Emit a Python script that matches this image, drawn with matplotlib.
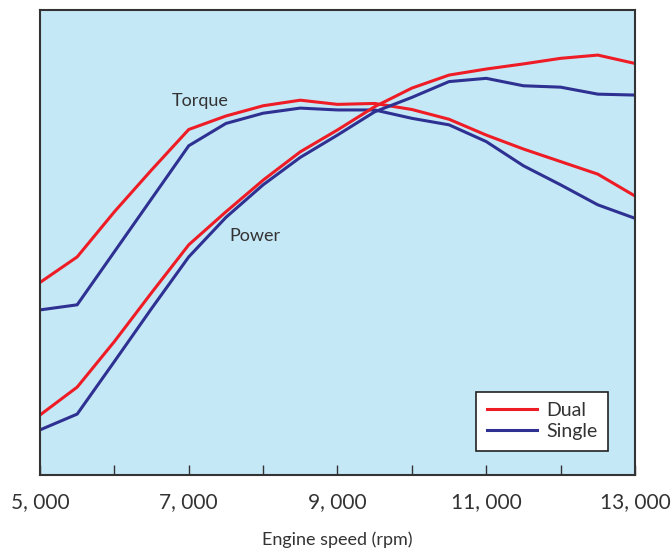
import numpy as np
import matplotlib
matplotlib.use("Agg")
import matplotlib.pyplot as plt
from matplotlib.ticker import MultipleLocator, FuncFormatter

plt.rcParams['font.family'] = ['Lato', 'DejaVu Sans']

# engine speed, rpm
rpm = np.arange(5000, 13001, 500)

# curve heights (arbitrary units, axis 0..100)
torque_dual = [41.4, 46.9, 56.6, 65.6, 74.3, 77.2, 79.4, 80.6, 79.7, 79.9,
               78.6, 76.5, 73.1, 70.1, 67.4, 64.7, 60.0]
torque_single = [35.5, 36.6, 48.0, 59.4, 70.8, 75.6, 77.8, 78.9, 78.5, 78.5,
                 76.7, 75.3, 71.7, 66.5, 62.4, 58.1, 55.2]
power_dual = [12.9, 18.9, 28.7, 39.2, 49.5, 56.6, 63.4, 69.5, 74.2, 79.2,
              83.2, 86.0, 87.3, 88.4, 89.6, 90.3, 88.5]
power_single = [9.7, 13.1, 24.4, 35.8, 46.9, 55.4, 62.4, 68.3, 73.1, 78.1,
                81.2, 84.6, 85.3, 83.7, 83.4, 81.9, 81.7]

red = '#ee1c25'
blue = '#2e3192'
txt = '#333333'

fig = plt.figure(figsize=(6.71, 5.48), dpi=100)
ax = fig.add_axes([0.0596, 0.1332, 0.8867, 0.8486])
ax.set_facecolor('#c5e8f7')

ax.plot(rpm, torque_dual, color=red, lw=2.2, label='Dual')
ax.plot(rpm, torque_single, color=blue, lw=2.2, label='Single')
ax.plot(rpm, power_dual, color=red, lw=2.2)
ax.plot(rpm, power_single, color=blue, lw=2.2)

ax.text(6775, 80.4, 'Torque', fontsize=13, color=txt, va='center', ha='left')
ax.text(7540, 51.4, 'Power', fontsize=13, color=txt, va='center', ha='left')

ax.set_xlim(5000, 13000)
ax.set_ylim(0, 100)
ax.xaxis.set_major_locator(MultipleLocator(1000))
ax.xaxis.set_major_formatter(FuncFormatter(
    lambda v, p: f"{int(v) // 1000}, {int(v) % 1000:03d}" if int(v) % 2000 == 1000 else ""))
ax.tick_params(axis='x', direction='in', length=7, width=1, colors=txt,
               labelsize=15, pad=12, labelcolor=txt)
ax.set_yticks([])
for s in ax.spines.values():
    s.set_color(txt)
    s.set_linewidth(1.5)

ax.set_xlabel('Engine speed (rpm)', fontsize=13, color=txt, labelpad=14)

leg = ax.legend(loc='lower right', bbox_to_anchor=(0.955, 0.052), borderaxespad=0,
                fancybox=False, edgecolor='#222222', fontsize=14, handlelength=2.6,
                handletextpad=0.45, labelspacing=0.2, borderpad=0.55, framealpha=1)
leg.get_frame().set_linewidth(1.2)
for t in leg.get_texts():
    t.set_color(txt)

fig.savefig('out.png', dpi=100)
